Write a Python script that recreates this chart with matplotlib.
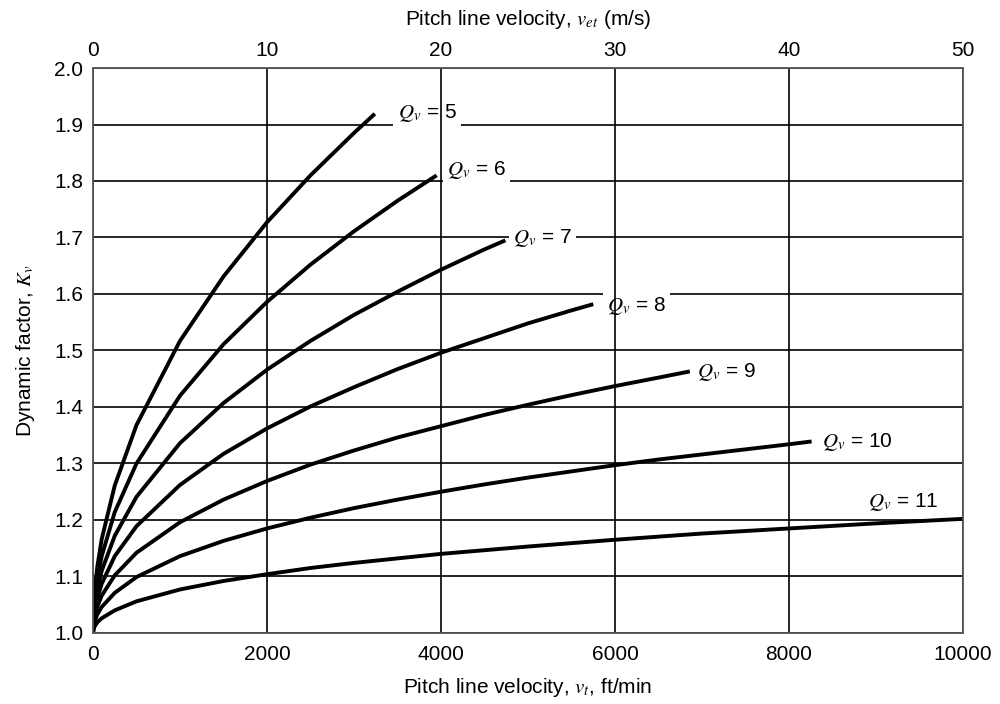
import matplotlib
matplotlib.use("Agg")
import matplotlib.pyplot as plt

plt.rcParams['font.family'] = ['Liberation Sans', 'DejaVu Sans']
plt.rcParams['mathtext.fontset'] = 'stix'

# Kv for each quality number, at pitch line velocities in ft/min
# (each curve stops where it is drawn in the figure)
v_q5 = [0, 10, 25, 50, 100, 250, 500, 1000, 1500, 2000, 2500, 3000, 3240]
kv_q5 = [1.000, 1.053, 1.083, 1.118, 1.166, 1.261, 1.368, 1.517, 1.631, 1.727, 1.810, 1.885, 1.919]

v_q6 = [0, 10, 25, 50, 100, 250, 500, 1000, 1500, 2000, 2500, 3000, 3500, 3950]
kv_q6 = [1.000, 1.044, 1.070, 1.097, 1.136, 1.214, 1.300, 1.420, 1.511, 1.586, 1.652, 1.711, 1.765, 1.810]

v_q7 = [0, 10, 25, 50, 100, 250, 500, 1000, 1500, 2000, 2500, 3000, 3500, 4000, 4500, 4740]
kv_q7 = [1.000, 1.035, 1.055, 1.078, 1.110, 1.172, 1.241, 1.336, 1.407, 1.466, 1.517,
         1.563, 1.604, 1.643, 1.679, 1.695]

v_q8 = [0, 10, 25, 50, 100, 250, 500, 1000, 1500, 2000, 2500, 3000, 3500, 4000,
        4500, 5000, 5500, 5750]
kv_q8 = [1.000, 1.028, 1.044, 1.062, 1.087, 1.136, 1.189, 1.262, 1.317, 1.362, 1.401,
         1.435, 1.467, 1.496, 1.522, 1.548, 1.571, 1.582]

v_q9 = [0, 10, 25, 50, 100, 250, 500, 1000, 1500, 2000, 2500, 3000, 3500, 4000,
        4500, 5000, 5500, 6000, 6500, 6860]
kv_q9 = [1.000, 1.021, 1.033, 1.047, 1.066, 1.102, 1.142, 1.196, 1.236, 1.269, 1.298,
         1.323, 1.346, 1.366, 1.386, 1.404, 1.421, 1.437, 1.452, 1.463]

v_q10 = [0, 10, 25, 50, 100, 250, 500, 1000, 1500, 2000, 2500, 3000, 3500, 4000,
         4500, 5000, 5500, 6000, 6500, 7000, 7500, 8000, 8260]
kv_q10 = [1.000, 1.015, 1.023, 1.033, 1.046, 1.071, 1.099, 1.136, 1.163, 1.185, 1.204,
          1.221, 1.236, 1.250, 1.263, 1.275, 1.286, 1.297, 1.307, 1.316, 1.325,
          1.334, 1.339]

v_q11 = [0, 10, 25, 50, 100, 250, 500, 1000, 1500, 2000, 2500, 3000, 4000, 5000,
         6000, 7000, 8000, 9000, 10000]
kv_q11 = [1.000, 1.009, 1.013, 1.019, 1.026, 1.040, 1.056, 1.077, 1.092, 1.104, 1.115,
          1.124, 1.140, 1.153, 1.165, 1.176, 1.185, 1.194, 1.202]

curves = [(v_q5, kv_q5), (v_q6, kv_q6), (v_q7, kv_q7), (v_q8, kv_q8),
          (v_q9, kv_q9), (v_q10, kv_q10), (v_q11, kv_q11)]

qv_labels = ['5', '6', '7', '8', '9', '10', '11']
label_x = [3500, 4070, 4830, 5910, 6940, 8380, 8910]
label_y = [1.920, 1.820, 1.699, 1.579, 1.462, 1.338, 1.232]

x_ticks = [0, 2000, 4000, 6000, 8000, 10000]
y_ticks = [1.0, 1.1, 1.2, 1.3, 1.4, 1.5, 1.6, 1.7, 1.8, 1.9, 2.0]
top_ticks = [0, 10, 20, 30, 40, 50]

fig = plt.figure(figsize=(10, 7.04), dpi=100)
ax = fig.add_axes([0.093, 0.1009, 0.870, 0.8025])

# horizontal grid sits under the label boxes, vertical grid above them
for yv in y_ticks:
    ax.axhline(yv, color='black', lw=1.2, zorder=1)
for xv in x_ticks:
    ax.axvline(xv, color='black', lw=1.2, zorder=2.5)

for xs, ys in curves:
    ax.plot(xs, ys, color='black', lw=2.8, solid_capstyle='butt', zorder=3)

for q, lx, ly in zip(qv_labels, label_x, label_y):
    ax.text(lx, ly, r'$Q_v$ = ' + q, fontsize=15, ha='left', va='center',
            zorder=2, bbox=dict(facecolor='white', edgecolor='none', pad=3))

ax.set_xlim(0, 10000)
ax.set_ylim(1.0, 2.0)
ax.set_xticks(x_ticks)
ax.set_yticks(y_ticks)
ax.set_yticklabels(['%.1f' % y for y in y_ticks])
ax.tick_params(length=0, labelsize=15)
ax.tick_params(axis='x', pad=9)
ax.tick_params(axis='y', pad=7)
for s in ax.spines.values():
    s.set_color('#555555')
    s.set_linewidth(1.3)
    s.set_zorder(4)

ax.set_xlabel(r'Pitch line velocity, $v_t$, ft/min', fontsize=15, labelpad=8)
ax.set_ylabel(r'Dynamic factor, $K_v$', fontsize=15, labelpad=12)

top = ax.twiny()
top.set_xlim(0, 50)
top.set_xticks(top_ticks)
top.tick_params(length=0, labelsize=15, pad=6)
for s in top.spines.values():
    s.set_visible(False)
top.set_xlabel(r'Pitch line velocity, $v_{et}$ (m/s)', fontsize=15, labelpad=11)

fig.savefig('out.png', dpi=100)
